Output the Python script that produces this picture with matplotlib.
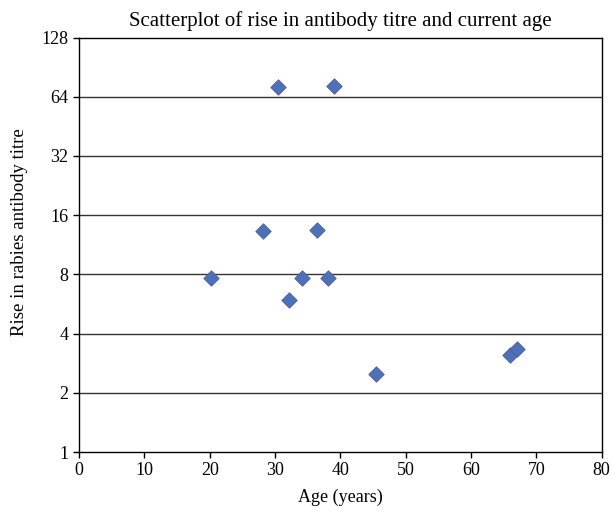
import matplotlib
matplotlib.use("Agg")
import matplotlib.pyplot as plt
from matplotlib.ticker import FixedLocator, NullLocator

# ages (years) and rise in antibody titre
age = [20.2, 28.2, 30.4, 32.1, 34.2, 36.4, 38.1, 39.0, 45.4, 65.9, 67.0]
titre = [7.7, 13.3, 71.5, 5.9, 7.7, 13.4, 7.7, 72.6, 2.48, 3.12, 3.33]
y_ticks = [1, 2, 4, 8, 16, 32, 64, 128]
x_ticks = [0, 10, 20, 30, 40, 50, 60, 70, 80]

plt.rcParams['font.family'] = ['Liberation Serif', 'DejaVu Serif']
plt.rcParams['font.size'] = 13

fig = plt.figure(figsize=(6.14, 5.21), dpi=100)
ax = fig.add_axes([0.1287, 0.1324, 0.8513, 0.7956])

ax.set_yscale('log', base=2)
ax.set_ylim(1, 128)
ax.set_xlim(0, 80)
ax.yaxis.set_major_locator(FixedLocator(y_ticks))
ax.yaxis.set_minor_locator(NullLocator())
ax.set_yticklabels([str(v) for v in y_ticks])
ax.set_xticks(x_ticks)

for v in y_ticks[1:-1]:
    ax.axhline(v, color='#333333', lw=1.0, zorder=1)

ax.scatter(age, titre, marker='D', s=62, color='#4a72b8', edgecolors='#5b5a9a',
           linewidths=0.6, zorder=3)

for sp in ax.spines.values():
    sp.set_linewidth(1.0)
ax.tick_params(direction='out', length=4, width=1.0, colors='black', labelsize=13)

ax.set_title('Scatterplot of rise in antibody titre and current age', fontsize=15, pad=8)
ax.set_xlabel('Age (years)', fontsize=13, labelpad=7)
ax.set_ylabel('Rise in rabies antibody titre', fontsize=13.5, labelpad=8)
ax.yaxis.set_label_coords(-0.098, 0.53)

fig.savefig('out.png', dpi=100)
